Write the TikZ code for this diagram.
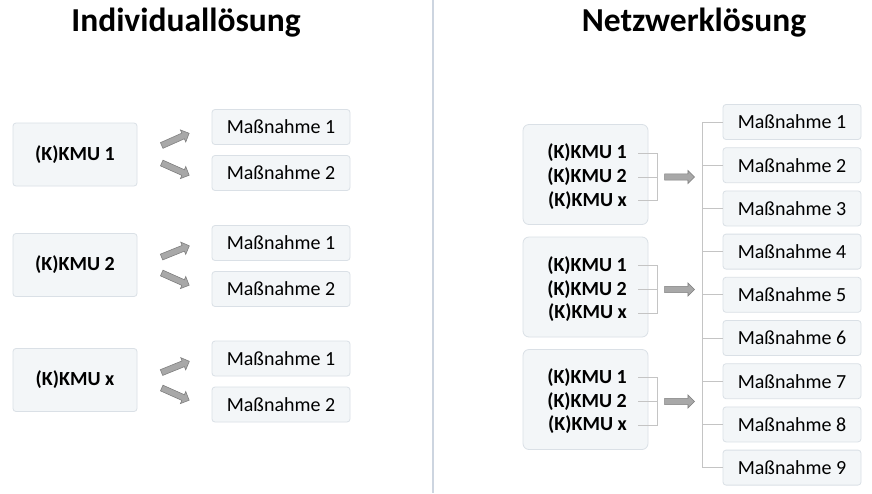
\documentclass[tikz,border=0pt]{standalone}
\usepackage{fontspec}
\setmainfont{Carlito}
\usetikzlibrary{shapes.arrows}
\definecolor{boxfill}{HTML}{F3F6F8}
\definecolor{boxline}{HTML}{DAE0E6}
\definecolor{arrowfill}{HTML}{A8A8A8}
\definecolor{arrowline}{HTML}{808080}
\definecolor{treeline}{HTML}{C4C4C4}
\definecolor{sepline}{HTML}{CDD5E0}
\begin{document}
\begin{tikzpicture}[x=1pt,y=-1pt,
  box/.style={draw=boxline, fill=boxfill, rounded corners=3pt, line width=0.8pt, inner sep=0pt},
  kmubox/.style={box, minimum width=124pt, minimum height=63pt, font=\fontsize{20}{23}\selectfont\bfseries},
  massbox/.style={box, minimum width=138pt, minimum height=35pt, font=\fontsize{20}{23}\selectfont},
  grpbox/.style={box, minimum width=125pt, minimum height=100pt, rounded corners=6pt},
  kmuline/.style={anchor=east, inner sep=0pt, font=\fontsize{20}{23}\selectfont\bfseries},
  blockarrow/.style={single arrow, draw=arrowline, fill=arrowfill, inner sep=2.8pt,
     single arrow head extend=3.5pt, minimum height=30pt, line width=0.6pt},
  tree/.style={draw=treeline, line width=0.8pt},
  title/.style={font=\fontsize{33.5}{40}\selectfont\bfseries}]
\useasboundingbox (0,0) rectangle (872,493);
\fill[white] (0,0) rectangle (872,493);

% separator
\coordinate (septop) at (433,0);
\coordinate (sepbot) at (433,493);
\draw[sepline, line width=1.6pt] (septop) -- (sepbot);

% titles
\node[title] (t1) at (186,23) {Individuallösung};
\node[title] (t2) at (694,23) {Netzwerklösung};

% left side
\node[kmubox] (k1) at (75,154.5) {(K)KMU 1};
\node[kmubox] (k2) at (75,265) {(K)KMU 2};
\node[kmubox] (k3) at (75,380) {(K)KMU x};

\node[massbox] (m1a) at (281,127) {Maßnahme 1};
\node[massbox] (m1b) at (281,173) {Maßnahme 2};
\node[massbox] (m2a) at (281,243) {Maßnahme 1};
\node[massbox] (m2b) at (281,289) {Maßnahme 2};
\node[massbox] (m3a) at (281,358.5) {Maßnahme 1};
\node[massbox] (m3b) at (281,404.5) {Maßnahme 2};

\node[blockarrow, rotate=24] (a1a) at (174,140) {};
\node[blockarrow, rotate=-24] (a1b) at (174,168.5) {};
\node[blockarrow, rotate=22] (a2a) at (174,252) {};
\node[blockarrow, rotate=-24] (a2b) at (174,278.5) {};
\node[blockarrow, rotate=22] (a3a) at (174,367.5) {};
\node[blockarrow, rotate=-24] (a3b) at (174,393.5) {};

% right side groups
\node[grpbox] (g1) at (585.5,174.5) {};
\node[grpbox] (g2) at (585.5,287) {};
\node[grpbox] (g3) at (585.5,399.5) {};

\foreach \g/\y in {1/177,2/289.5,3/401.5}{
  \node[kmuline] (l\g a) at (627,\y-24) {(K)KMU 1};
  \node[kmuline] (l\g b) at (627,\y) {(K)KMU 2};
  \node[kmuline] (l\g c) at (627,\y+23.5) {(K)KMU x};
  \coordinate (j\g a) at (657,\y-24);
  \coordinate (j\g c) at (657,\y+23.5);
  \draw[tree] ([xshift=11pt]l\g a.east) -- (j\g a) -- (j\g c) -- ([xshift=11pt]l\g c.east);
  \draw[tree] ([xshift=11pt]l\g b.east) -- (657,\y);
  \node[blockarrow] (r\g) at (678,\y) {};
}

% measures on the right
\foreach \i in {1,...,9}{
  \pgfmathsetmacro{\yy}{122+43.2*(\i-1)}
  \node[massbox] (n\i) at (792,\yy) {Maßnahme \i};
  \coordinate (s\i) at (702,\yy);
  \draw[tree] (s\i) -- (n\i.west);
}
\draw[tree] (s1) -- (s9);
\end{tikzpicture}
\end{document}
